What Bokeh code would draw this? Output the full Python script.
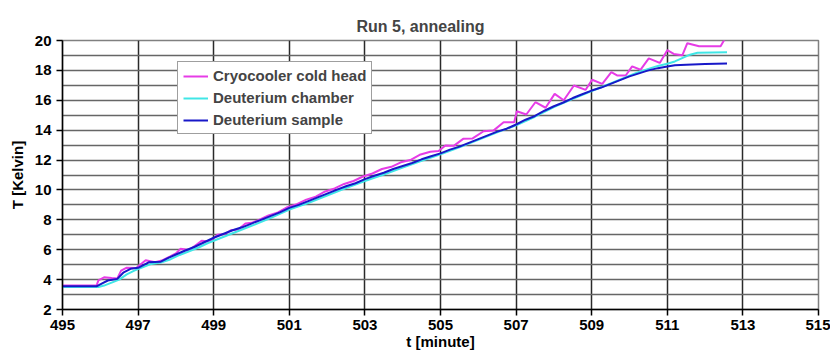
from bokeh.plotting import figure
from bokeh.models import Legend, LegendItem, FixedTicker, Range1d
from bokeh.embed import file_html
from bokeh.resources import INLINE

# ---------------- data ----------------
head_t = [495.0, 495.9, 495.95, 496.1, 496.3, 496.45, 496.55, 496.7, 496.95, 497.2,
          497.45, 497.65, 497.85, 498.0, 498.12, 498.35, 498.55, 498.68, 498.9, 499.1,
          499.3, 499.45, 499.65, 499.84, 500.0, 500.2, 500.45, 500.7, 500.95, 501.2,
          501.45, 501.7, 501.95, 502.2, 502.45, 502.7, 502.95, 503.2, 503.45, 503.7,
          503.95, 504.2, 504.45, 504.73, 504.95, 505.13, 505.35, 505.6, 505.85, 506.14,
          506.4, 506.67, 506.95, 507.02, 507.27, 507.51, 507.78, 508.02, 508.26, 508.53,
          508.84, 509.01, 509.28, 509.52, 509.67, 509.9, 510.07, 510.29, 510.51, 510.8,
          511.0, 511.17, 511.4, 511.53, 511.84, 512.41, 512.52]
head_T = [3.6, 3.6, 3.95, 4.15, 4.1, 4.08, 4.6, 4.8, 4.78, 5.3,
          5.16, 5.3, 5.55, 5.75, 6.06, 5.98, 6.35, 6.6, 6.55, 7.0,
          7.05, 7.3, 7.35, 7.75, 7.8, 8.0, 8.3, 8.5, 8.85, 9.05,
          9.35, 9.55, 9.9, 10.1, 10.4, 10.6, 10.9, 11.1, 11.4, 11.55,
          11.85, 12.0, 12.35, 12.55, 12.6, 12.97, 12.95, 13.42, 13.45, 13.93,
          13.97, 14.53, 14.53, 15.27, 15.05, 15.87, 15.5, 16.43, 16.0, 16.99,
          16.7, 17.37, 17.1, 17.88, 17.66, 17.66, 18.27, 18.04, 18.8, 18.5,
          19.35, 19.1, 19.02, 19.82, 19.62, 19.62, 20.1]

chamber_t = [495.0, 495.95, 496.1, 496.3, 496.5, 496.7, 496.9, 497.1, 497.35, 497.6,
             497.85, 498.1, 498.35, 498.6, 498.85, 499.1, 499.35, 499.6, 499.85, 500.1,
             500.5, 501.0, 501.5, 502.0, 502.5, 503.0, 503.5, 504.0, 504.5, 505.0,
             505.5, 506.0, 506.5, 507.0, 507.5, 508.0, 508.5, 509.0, 509.5, 510.0,
             510.25, 510.5, 510.75, 511.0, 511.2, 511.35, 511.6, 511.8, 512.2, 512.58]
chamber_T = [3.5, 3.5, 3.6, 3.8, 4.0, 4.35, 4.6, 4.8, 5.05, 5.15,
             5.35, 5.65, 5.9, 6.15, 6.45, 6.7, 6.95, 7.2, 7.45, 7.7,
             8.12, 8.68, 9.13, 9.63, 10.13, 10.6, 11.03, 11.5, 11.95, 12.38,
             12.85, 13.35, 13.85, 14.33, 14.9, 15.55, 16.1, 16.62, 17.12, 17.65,
             17.9, 18.1, 18.3, 18.44, 18.6, 18.77, 19.05, 19.18, 19.2, 19.22]

sample_t = [495.0, 495.9, 496.05, 496.2, 496.45, 496.62, 496.8, 497.0, 497.28, 497.6,
            497.8, 498.0, 498.25, 498.5, 498.75, 499.0, 499.25, 499.5, 499.75, 500.0,
            500.25, 500.5, 500.75, 501.0, 501.25, 501.5, 501.75, 502.0, 502.25, 502.5,
            502.75, 503.0, 503.25, 503.5, 503.75, 504.0, 504.25, 504.5, 504.75, 505.0,
            505.25, 505.5, 505.75, 506.0, 506.25, 506.5, 506.75, 507.0, 507.25, 507.5,
            507.75, 508.0, 508.25, 508.5, 508.75, 509.0, 509.25, 509.5, 509.75, 510.0,
            510.25, 510.5, 510.75, 511.0, 511.2, 511.5, 512.0, 512.58]
sample_T = [3.55, 3.55, 3.75, 3.94, 4.05, 4.49, 4.72, 4.79, 5.16, 5.2,
            5.45, 5.68, 5.95, 6.2, 6.5, 6.8, 7.05, 7.3, 7.5, 7.75,
            8.0, 8.25, 8.5, 8.8, 9.0, 9.25, 9.5, 9.75, 10.0, 10.25,
            10.45, 10.72, 10.95, 11.15, 11.4, 11.6, 11.8, 12.05, 12.25, 12.45,
            12.7, 12.9, 13.15, 13.4, 13.65, 13.9, 14.1, 14.38, 14.7, 14.95,
            15.3, 15.6, 15.85, 16.15, 16.4, 16.65, 16.85, 17.1, 17.35, 17.6,
            17.8, 18.0, 18.15, 18.26, 18.35, 18.38, 18.42, 18.46]

series_names = ["Cryocooler cold head", "Deuterium chamber", "Deuterium sample"]
x_ticks = [495, 497, 499, 501, 503, 505, 507, 509, 511, 513, 515]
y_ticks = [2, 4, 6, 8, 10, 12, 14, 16, 18, 20]
y_minor = [3, 5, 7, 9, 11, 13, 15, 17, 19]

FONT = "Liberation Sans"

p = figure(width=830, height=354, output_backend="svg", toolbar_location=None,
           x_range=Range1d(495, 515), y_range=Range1d(2, 20),
           min_border_left=62, min_border_right=12, min_border_top=40, min_border_bottom=45,
           background_fill_color="white", border_fill_color="white")

p.title.text = "Run 5, annealing"
p.title.align = "left"
p.title.text_font = FONT
p.title.text_font_size = "16px"
p.title.text_font_style = "bold"
p.title.offset = 294
p.title.standoff = 12

p.outline_line_color = "#808080"
p.outline_line_width = 1.5

# axes
for ax in (p.xaxis, p.yaxis):
    ax.axis_line_color = "black"
    ax.axis_line_width = 1.5
    ax.major_tick_line_color = "black"
    ax.major_tick_line_width = 1.5
    ax.major_tick_out = 6
    ax.major_tick_in = 0
    ax.minor_tick_out = 0
    ax.minor_tick_in = 0
    ax.major_label_text_font = FONT
    ax.major_label_text_font_size = "15px"
    ax.major_label_text_font_style = "bold"
    ax.major_label_text_color = "black"
    ax.axis_label_text_font = FONT
    ax.axis_label_text_font_size = "15px"
    ax.axis_label_text_font_style = "bold"
    ax.axis_label_text_color = "black"

p.xaxis.ticker = FixedTicker(ticks=x_ticks)
p.yaxis.ticker = FixedTicker(ticks=y_ticks, minor_ticks=y_minor)
p.xaxis.major_label_standoff = 4
p.yaxis.major_label_standoff = 5

p.yaxis.axis_label = "T [Kelvin]"
p.yaxis.axis_label_standoff = 6
p.xaxis.axis_label = "t [minute]"
p.xaxis.axis_label_standoff = 0

# grid
p.xgrid.grid_line_color = "#2a2a2a"
p.xgrid.grid_line_width = 1.5
p.ygrid.grid_line_color = "#666666"
p.ygrid.grid_line_width = 1.5
p.ygrid.minor_grid_line_color = "#666666"
p.ygrid.minor_grid_line_width = 1.5

# lines
r_head = p.line(head_t, head_T, line_color="#E63CE6", line_width=2)
r_chamber = p.line(chamber_t, chamber_T, line_color="#40E6E6", line_width=2)
r_sample = p.line(sample_t, sample_T, line_color="#1818C8", line_width=2)

legend = Legend(items=[LegendItem(label=series_names[0], renderers=[r_head]),
                       LegendItem(label=series_names[1], renderers=[r_chamber]),
                       LegendItem(label=series_names[2], renderers=[r_sample])],
                location=(115, 175))
legend.border_line_color = "#404040"
legend.border_line_width = 1
legend.background_fill_color = "white"
legend.background_fill_alpha = 1.0
legend.label_text_font = FONT
legend.label_text_font_size = "15px"
legend.label_text_font_style = "bold"
legend.glyph_width = 25
legend.glyph_height = 16
legend.label_height = 16
legend.spacing = 5
legend.padding = 5
legend.label_standoff = 5
legend.margin = 0
p.add_layout(legend, "center")

open("out.html", "w").write(file_html(p, INLINE))
